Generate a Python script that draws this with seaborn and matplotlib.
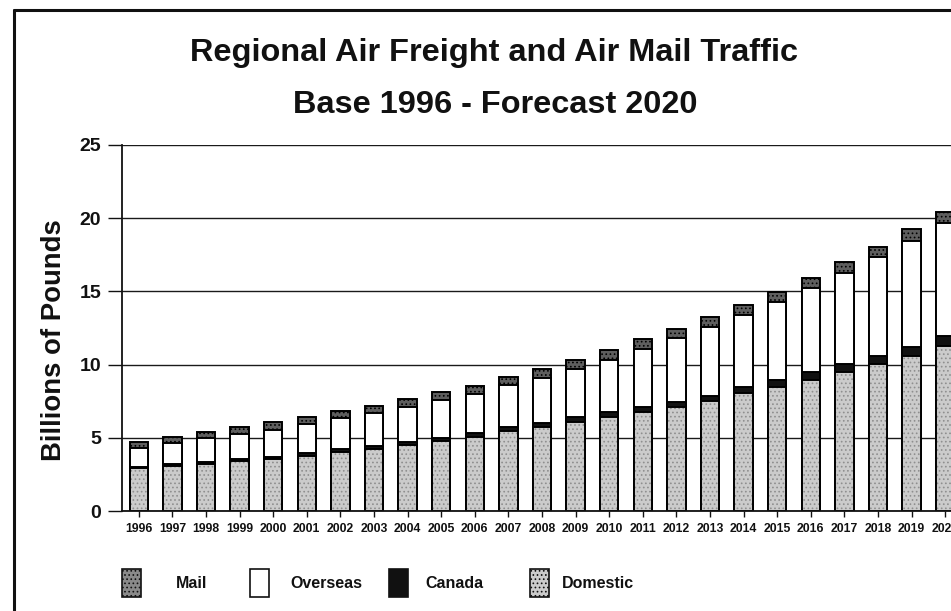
import matplotlib
matplotlib.use("Agg")
import matplotlib.pyplot as plt
import seaborn as sns
import pandas as pd
from matplotlib.lines import Line2D
from matplotlib.patches import Rectangle

# Regional air cargo, billions of pounds
years = [str(y) for y in range(1996, 2021)]
domestic = [2.93, 3.10, 3.20, 3.40, 3.57, 3.79, 4.05, 4.26, 4.50, 4.75,
            5.08, 5.47, 5.76, 6.11, 6.43, 6.79, 7.11, 7.49, 8.03, 8.49,
            8.97, 9.48, 10.03, 10.59, 11.25]
canada = [0.10, 0.11, 0.12, 0.13, 0.14, 0.15, 0.16, 0.18, 0.19, 0.21,
          0.23, 0.25, 0.27, 0.29, 0.31, 0.33, 0.36, 0.39, 0.42, 0.46,
          0.50, 0.54, 0.58, 0.63, 0.70]
overseas = [1.29, 1.41, 1.64, 1.71, 1.82, 1.98, 2.12, 2.23, 2.43, 2.62,
            2.68, 2.89, 3.03, 3.30, 3.57, 3.95, 4.33, 4.71, 4.94, 5.35,
            5.74, 6.22, 6.72, 7.24, 7.74]
mail = [0.41, 0.45, 0.46, 0.48, 0.52, 0.52, 0.51, 0.52, 0.53, 0.54,
        0.58, 0.55, 0.62, 0.61, 0.66, 0.66, 0.65, 0.68, 0.68, 0.69,
        0.73, 0.75, 0.70, 0.78, 0.70]
series_names = ["Mail", "Overseas", "Canada", "Domestic"]
yticks = [0, 5, 10, 15, 20, 25]

sns.set_theme(style="white")
plt.rcParams["font.family"] = ["Liberation Sans", "DejaVu Sans"]
plt.rcParams["font.weight"] = "bold"
plt.rcParams["hatch.linewidth"] = 0.7

df = pd.DataFrame({"year": years, "Domestic": domestic, "Canada": canada,
                   "Overseas": overseas, "Mail": mail})
# cumulative tops for the stacked layers
df["lvl_domestic"] = df["Domestic"]
df["lvl_canada"] = df["lvl_domestic"] + df["Canada"]
df["lvl_overseas"] = df["lvl_canada"] + df["Overseas"]
df["lvl_mail"] = df["lvl_overseas"] + df["Mail"]

colors = {"Mail": "#5e5e5e", "Overseas": "#ffffff", "Canada": "#111111",
          "Domestic": "#cbcbcb"}

W, H = 951, 611
fig = plt.figure(figsize=(W / 100, H / 100), dpi=100)
fig.patch.set_facecolor("white")
ax = fig.add_axes([122 / W, 100 / H, 840 / W, 366 / H])

bw = 0.55
edge_lw = 1.4
common = dict(data=df, x="year", width=bw, saturation=1, errorbar=None, ax=ax)
sns.barplot(y="lvl_mail", color=colors["Mail"], edgecolor="black",
            linewidth=edge_lw, hatch="....", **common)
sns.barplot(y="lvl_overseas", color=colors["Overseas"], edgecolor="black",
            linewidth=edge_lw, **common)
sns.barplot(y="lvl_canada", color=colors["Canada"], edgecolor="black",
            linewidth=edge_lw, **common)
sns.barplot(y="lvl_domestic", color=colors["Domestic"], edgecolor="#8f8f8f",
            linewidth=0, hatch="....", **common)
sns.barplot(y="lvl_domestic", facecolor="none", edgecolor="black",
            linewidth=edge_lw, **common)

ax.set_xlim(-0.5, 24.5)
ax.set_ylim(0, 25)
ax.set_yticks(yticks)
ax.set_yticklabels([str(v) for v in yticks])
ax.set_xlabel("")
ax.set_ylabel("")
ax.set_facecolor("white")
ax.set_axisbelow(True)
ax.yaxis.grid(True, color="#1a1a1a", linewidth=1.0)
ax.xaxis.grid(False)
for side in ("top", "right"):
    ax.spines[side].set_visible(False)
for side in ("left", "bottom"):
    ax.spines[side].set_visible(True)
    ax.spines[side].set_color("#111111")
    ax.spines[side].set_linewidth(1.3)

ax.tick_params(axis="y", direction="out", length=10, width=1.0,
               color="#111111", labelsize=14, pad=5, left=True)
ax.tick_params(axis="x", direction="out", length=4, width=1.0,
               color="#111111", labelsize=8.8, pad=5, bottom=True)
for lab in ax.get_xticklabels() + ax.get_yticklabels():
    lab.set_fontweight("bold")
    lab.set_color("#111111")

# titles and axis label
fig.text(494 / W, 1 - 53 / H, "Regional Air Freight and Air Mail Traffic",
         ha="center", va="center", fontsize=23.4, fontweight="bold", color="#111111")
fig.text(495 / W, 1 - 105 / H, "Base 1996 - Forecast 2020",
         ha="center", va="center", fontsize=23.4, fontweight="bold", color="#111111")
fig.text(54 / W, 1 - 340 / H, "Billions of Pounds", rotation=90,
         ha="center", va="center", fontsize=19.8, fontweight="bold", color="#111111")

# outer frame
fig.add_artist(Line2D([14 / W, 14 / W], [0, 1 - 10 / H], transform=fig.transFigure,
                      color="#111111", linewidth=2.2))
fig.add_artist(Line2D([14 / W, 1], [1 - 10 / H, 1 - 10 / H], transform=fig.transFigure,
                      color="#111111", linewidth=2.2))

# legend row
sw_left = [122, 250, 389, 530]
txt_left = [176, 290, 425, 562]
sw_w, sw_h = 19, 28
y_mid = 583
legend_colors = {"Mail": "#8a8a8a", "Overseas": "#ffffff", "Canada": "#111111",
                 "Domestic": "#cbcbcb"}
for name, sx, tx in zip(series_names, sw_left, txt_left):
    hatch = "...." if name in ("Mail", "Domestic") else None
    rect = Rectangle((sx / W, 1 - (y_mid + sw_h / 2) / H), sw_w / W, sw_h / H,
                     transform=fig.transFigure, facecolor=legend_colors[name],
                     edgecolor="#111111", linewidth=1.2, hatch=hatch)
    fig.add_artist(rect)
    fig.text(tx / W, 1 - y_mid / H, name, ha="left", va="center",
             fontsize=11.5, fontweight="bold", color="#111111")

fig.savefig("out.png", dpi=100, facecolor="white")
